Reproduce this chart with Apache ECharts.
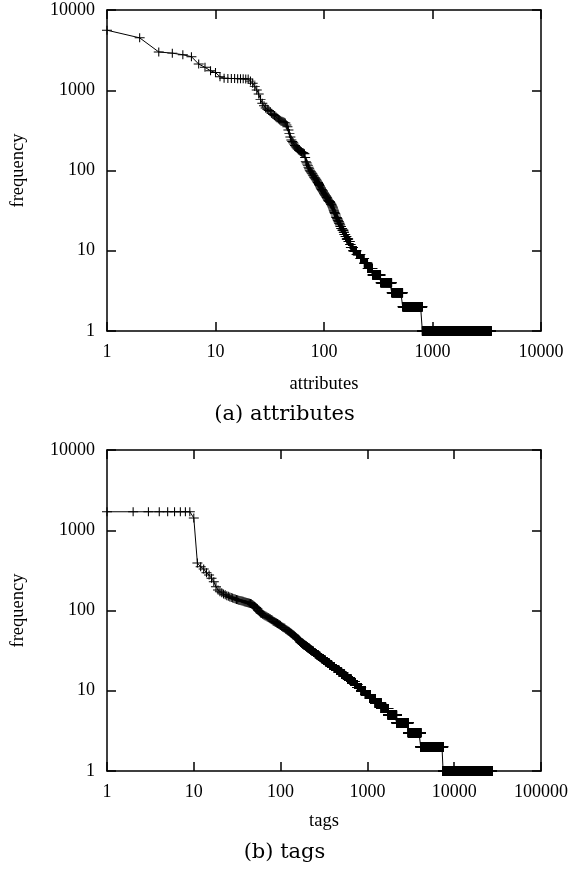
<!DOCTYPE html>
<html>
<head>
<meta charset="utf-8">
<script src="https://cdn.jsdelivr.net/npm/echarts@6/dist/echarts.min.js"></script>
<style>
html, body { margin: 0; padding: 0; background: #fff; }
#chart { width: 569px; height: 869px; }
</style>
</head>
<body>
<div id="chart"></div>
<script>
/**
 * (a) attributes : rank / frequency
 */
var topHeadRank = [1, 2, 3, 4, 5, 6, 7, 8, 9, 10, 11, 12, 13, 14, 15, 16, 17, 18, 19, 20,
  21, 22, 23, 24, 25, 26, 27, 28, 29, 30, 31, 32, 33, 34, 35, 36, 37, 38, 39, 40,
  41, 42, 43, 44, 45, 46, 47, 48, 49, 50, 51, 52, 53, 54, 55, 56, 57, 58, 59, 60,
  61, 62, 63, 64, 65, 66, 67, 68, 69, 70, 71, 72, 73, 74, 75, 76, 77, 78, 79, 80,
  81, 82, 83, 84, 85, 86, 87, 88, 89, 90, 91, 92, 93, 94, 95, 96, 97, 98, 99, 100,
  101, 102, 103, 104, 105, 106, 107, 108];
var topHeadFreq = [5600, 4500, 3000, 2900, 2770, 2620, 2120, 1930, 1750, 1660, 1475, 1410, 1405, 1400, 1400, 1395, 1390, 1390, 1385, 1380,
  1300, 1220, 1110, 1010, 900, 770, 690, 640, 600, 580, 560, 540, 515, 500, 485, 467, 450, 438, 426, 415,
  410, 405, 398, 390, 370, 350, 320, 290, 262, 240, 230, 222, 213, 205, 198, 192, 187, 182, 178, 175,
  172, 170, 168, 166, 164, 162, 145, 130, 125, 120, 115, 110, 105, 101, 98, 96, 93, 91, 88, 86,
  83, 81, 80, 78, 76, 74, 72, 71, 69, 67, 65, 63, 61, 60, 58, 57, 56, 55, 53, 52,
  51, 50, 49, 48, 47, 46, 45, 44];
// lower frequencies: one value held over a run of ranks
var topRunFreq  = [43, 42, 41, 40, 39, 38, 37, 36, 35, 34, 33, 32, 31, 30, 29, 28, 27, 26, 25, 24,
  23, 22, 21, 20, 19, 18, 17, 16, 15, 14, 13, 12, 11, 10, 9, 8, 7, 6, 5, 4, 3, 2, 1];
var topRunFirst = [109, 110, 112, 114, 115, 116, 118, 119, 120, 121, 122, 123, 124, 125, 126, 128, 129, 130, 132, 134,
  136, 138, 140, 142, 144, 148, 152, 154, 158, 162, 168, 174, 177, 186, 200, 217, 235, 253, 280, 333, 421, 531, 806];
var topRunLast  = [109, 111, 113, 114, 115, 117, 118, 119, 120, 121, 122, 123, 124, 125, 127, 128, 129, 131, 133, 135,
  137, 139, 141, 143, 147, 151, 153, 157, 161, 167, 173, 176, 185, 199, 216, 234, 252, 279, 332, 420, 530, 805, 3450];

/**
 * (b) tags : rank / frequency
 */
var botHeadRank = [1, 2, 3, 4, 5, 6, 7, 8, 9, 10, 11, 12, 13, 14, 15, 16, 17, 18, 19,
  20, 21, 22, 23, 24, 25, 26, 27, 28, 29, 30, 31, 32, 33, 34, 35, 36, 37, 38, 39,
  40, 41, 42, 43, 44, 45, 46, 47, 48, 49, 50, 51, 52, 53, 54, 55, 56, 57, 58, 59, 60,
  62, 64, 66, 68, 70, 72, 74, 76, 78, 80, 82, 84, 86, 88, 90, 92, 94, 96, 98, 100,
  103, 106, 109, 112, 115, 118, 121, 124, 127, 130, 133, 136, 139, 142, 145, 148, 151, 154, 157, 160,
  163, 166, 169];
var botHeadFreq = [1700, 1700, 1700, 1700, 1700, 1700, 1700, 1700, 1700, 1420, 390, 351, 329, 296, 277, 252, 228, 198, 180,
  171, 166, 161, 157, 153, 150, 147, 145, 143, 141, 139, 137, 136, 134, 133, 132, 131, 130, 129, 128,
  127, 126, 125, 124, 123, 122, 121, 119, 117, 115, 113, 111, 109, 107, 105, 101, 99, 97, 95, 93, 92,
  90, 88, 86, 85, 83, 82, 80, 79, 77, 76, 74, 73, 72, 71, 70, 69, 68, 67, 66, 65,
  63, 62, 61, 60, 58, 57, 56, 55, 54, 53, 52, 51, 50, 49, 48, 47, 46, 45, 44, 44,
  43, 42, 41];
var botRunFreq  = [40, 39, 38, 37, 36, 35, 34, 33, 32, 31, 30, 29, 28, 27, 26, 25, 24, 23, 22, 21,
  20, 19, 18, 17, 16, 15, 14, 13, 12, 11, 10, 9, 8, 7, 6, 5, 4, 3, 2, 1];
var botRunFirst = [170, 175, 180, 186, 193, 199, 206, 214, 222, 230, 240, 250, 260, 272, 285, 298, 313, 329, 347, 367,
  389, 414, 441, 472, 507, 547, 594, 648, 712, 767, 847, 946, 1071, 1230, 1443, 1736, 2170, 2960, 4110, 7450];
var botRunLast  = [174, 179, 185, 192, 198, 205, 213, 221, 229, 239, 249, 259, 271, 284, 297, 312, 328, 346, 366, 388,
  413, 440, 471, 506, 546, 593, 647, 711, 766, 846, 945, 1070, 1229, 1442, 1735, 2169, 2959, 4109, 7449, 27200];

// axis ranges
var topXMax = 10000;
var botXMax = 100000;
var yMax = 10000;

var tickFont = 'Liberation Serif';
var capFont = 'DejaVu Serif';

function buildPoints(headRank, headFreq, runFreq, runFirst, runLast){
    var pts = headRank.map(function(r, i){ return [r, headFreq[i]]; });
    runFreq.forEach(function(f, k){
        for (var r = runFirst[k]; r <= runLast[k]; r++) pts.push([r, f]);
    });
    return pts;
}

function fmt(v){ return String(Math.round(v)); }

function axisCommon(gi, maxV){
    return {
        type: 'log', logBase: 10, gridIndex: gi, min: 1, max: maxV,
        axisLine: { onZero: false, lineStyle: { color: '#000', width: 1.5 } },
        axisTick: { inside: true, length: 9, lineStyle: { color: '#000', width: 1.5 } },
        minorTick: { show: false },
        splitLine: { show: false }
    };
}

function labelled(ax, name, gap, rotate){
    ax.name = name;
    ax.nameLocation = 'middle';
    ax.nameGap = gap;
    ax.nameTextStyle = { fontFamily: tickFont, fontSize: 18.5, color: '#000' };
    if (rotate) ax.nameRotate = 90;
    ax.axisLabel = { show: true, margin: 12, color: '#000', fontFamily: tickFont, fontSize: 18,
        formatter: fmt, showMinLabel: true, showMaxLabel: true };
    return ax;
}

function mirror(ax, pos){
    ax.position = pos;
    ax.axisLabel = { show: false };
    return ax;
}

var xAxes = [
    labelled(Object.assign(axisCommon(0, topXMax), { position: 'bottom' }), 'attributes', 44),
    mirror(axisCommon(0, topXMax), 'top'),
    labelled(Object.assign(axisCommon(1, botXMax), { position: 'bottom' }), 'tags', 41),
    mirror(axisCommon(1, botXMax), 'top')
];
var yAxes = [
    labelled(Object.assign(axisCommon(0, yMax), { position: 'left' }), 'frequency', 79, true),
    mirror(axisCommon(0, yMax), 'right'),
    labelled(Object.assign(axisCommon(1, yMax), { position: 'left' }), 'frequency', 79, true),
    mirror(axisCommon(1, yMax), 'right')
];

function plusSeries(xi, yi, pts){
    return {
        type: 'line', xAxisIndex: xi, yAxisIndex: yi, data: pts,
        clip: false,
        symbol: 'path://M0,5L10,5M5,0L5,10',
        symbolSize: [10, 9],
        itemStyle: { color: '#000', borderColor: '#000', borderWidth: 1 },
        lineStyle: { color: '#000', width: 1 },
        emphasis: { disabled: true },
        silent: true
    };
}

var chart = echarts.init(document.getElementById('chart'), null, { renderer: 'canvas' });
chart.setOption({
    animation: false,
    backgroundColor: '#fff',
    title: [
        { text: '(a) attributes', left: 'center', top: 404, padding: 0,
          textStyle: { fontFamily: capFont, fontSize: 21, fontWeight: 'normal', color: '#000' } },
        { text: '(b) tags', left: 'center', top: 842, padding: 0,
          textStyle: { fontFamily: capFont, fontSize: 21, fontWeight: 'normal', color: '#000' } }
    ],
    grid: [
        { left: 107, top: 10, width: 434, height: 321, outerBoundsMode: 'none' },
        { left: 107, top: 450, width: 434, height: 321, outerBoundsMode: 'none' }
    ],
    xAxis: xAxes,
    yAxis: yAxes,
    series: [
        plusSeries(0, 0, buildPoints(topHeadRank, topHeadFreq, topRunFreq, topRunFirst, topRunLast)),
        plusSeries(2, 2, buildPoints(botHeadRank, botHeadFreq, botRunFreq, botRunFirst, botRunLast))
    ]
});
</script>
</body>
</html>
